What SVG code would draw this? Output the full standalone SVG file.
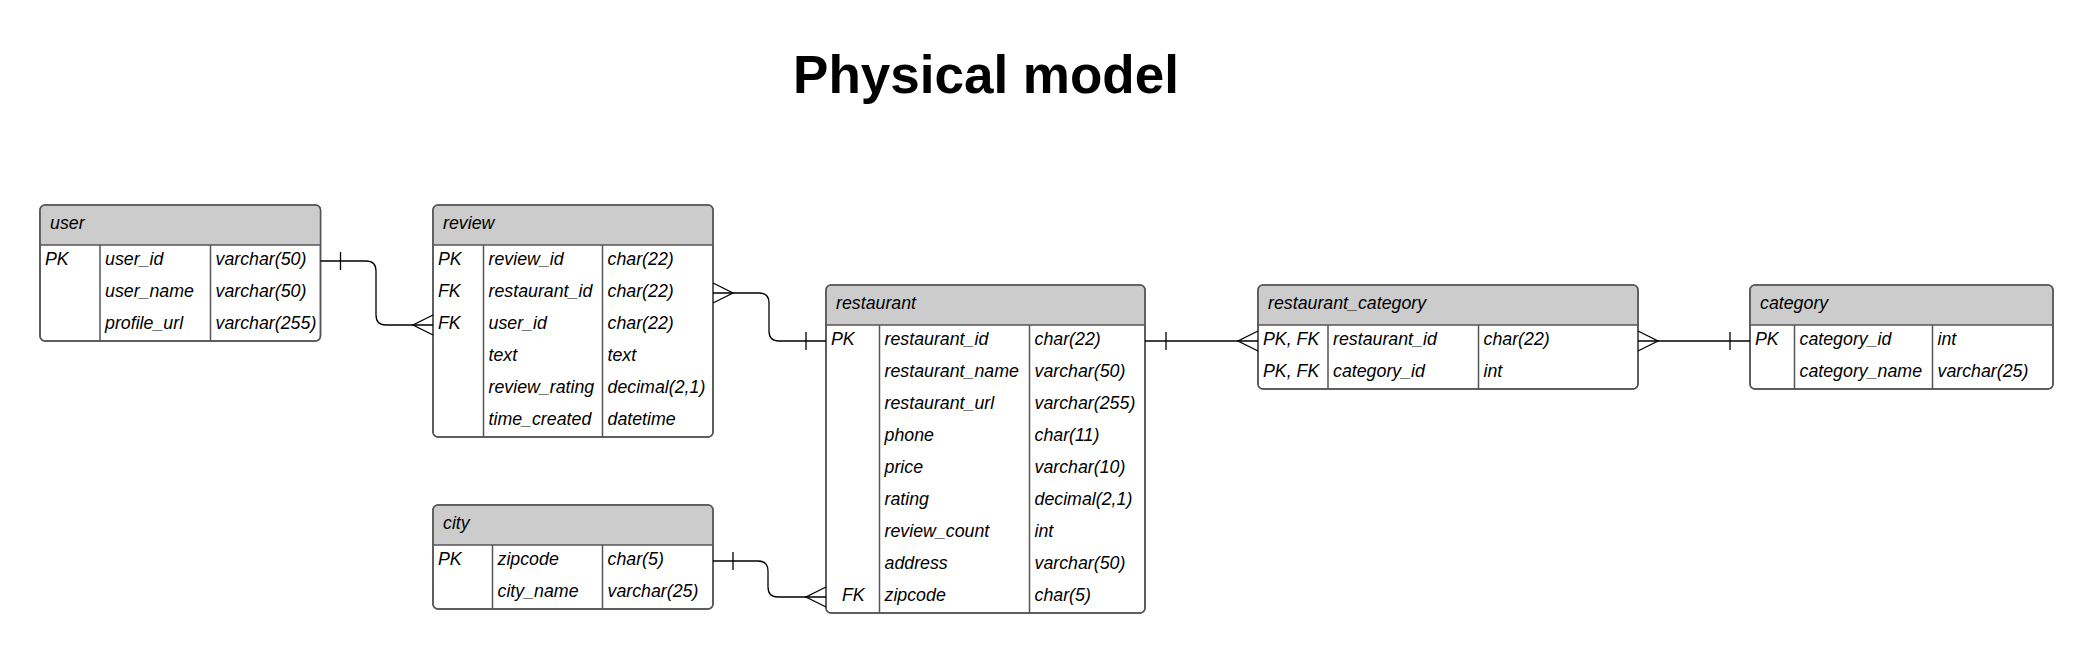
<svg xmlns="http://www.w3.org/2000/svg" width="2093" height="654" viewBox="0 0 2093 654">
<style>
.title{font-family:"Liberation Sans",Arial,sans-serif;font-weight:bold;font-size:53px;fill:#000}
.t{font-family:"Liberation Sans",Arial,sans-serif;font-style:italic;font-size:17.8px;fill:#000}
.box{fill:#fff;stroke:#555;stroke-width:1.5}
.hdr{fill:#cccccc;stroke:none}
.div{stroke:#555;stroke-width:1.5;fill:none}
.conn{fill:none;stroke:#000;stroke-width:1.3}
</style>
<rect width="2093" height="654" fill="#fff"/>
<text class="title" x="986" y="93" text-anchor="middle">Physical model</text>

<g id="user">
<rect class="box" x="40" y="205" width="280.5" height="136" rx="5"/>
<path class="hdr" d="M40.75,245 V210 Q40.75,205.75 45,205.75 H315.5 Q319.75,205.75 319.75,210 V245 Z"/>
<rect class="box" x="40" y="205" width="280.5" height="136" rx="5" style="fill:none"/>
<path class="div" d="M40,245 H320.5 M100,245 V341 M210.5,245 V341"/>
<text class="t" x="50" y="228.5">user</text>
<text class="t" x="45" y="264.5">PK</text>
<text class="t" x="105" y="264.5">user_id</text>
<text class="t" x="215.5" y="264.5">varchar(50)</text>
<text class="t" x="105" y="296.5">user_name</text>
<text class="t" x="215.5" y="296.5">varchar(50)</text>
<text class="t" x="105" y="328.5">profile_url</text>
<text class="t" x="215.5" y="328.5">varchar(255)</text>
</g>

<g id="review">
<rect class="box" x="433" y="205" width="280" height="232" rx="5"/>
<path class="hdr" d="M433.75,245 V210 Q433.75,205.75 438,205.75 H708 Q712.25,205.75 712.25,210 V245 Z"/>
<rect class="box" x="433" y="205" width="280" height="232" rx="5" style="fill:none"/>
<path class="div" d="M433,245 H713 M483.5,245 V437 M602.5,245 V437"/>
<text class="t" x="443" y="228.5">review</text>
<text class="t" x="438" y="264.5">PK</text>
<text class="t" x="488.5" y="264.5">review_id</text>
<text class="t" x="607.5" y="264.5">char(22)</text>
<text class="t" x="438" y="296.5">FK</text>
<text class="t" x="488.5" y="296.5">restaurant_id</text>
<text class="t" x="607.5" y="296.5">char(22)</text>
<text class="t" x="438" y="328.5">FK</text>
<text class="t" x="488.5" y="328.5">user_id</text>
<text class="t" x="607.5" y="328.5">char(22)</text>
<text class="t" x="488.5" y="360.5">text</text>
<text class="t" x="607.5" y="360.5">text</text>
<text class="t" x="488.5" y="392.5">review_rating</text>
<text class="t" x="607.5" y="392.5">decimal(2,1)</text>
<text class="t" x="488.5" y="424.5">time_created</text>
<text class="t" x="607.5" y="424.5">datetime</text>
</g>

<g id="city">
<rect class="box" x="433" y="505" width="280" height="104" rx="5"/>
<path class="hdr" d="M433.75,545 V510 Q433.75,505.75 438,505.75 H708 Q712.25,505.75 712.25,510 V545 Z"/>
<rect class="box" x="433" y="505" width="280" height="104" rx="5" style="fill:none"/>
<path class="div" d="M433,545 H713 M492.5,545 V609 M602.5,545 V609"/>
<text class="t" x="443" y="528.5">city</text>
<text class="t" x="438" y="564.5">PK</text>
<text class="t" x="497.5" y="564.5">zipcode</text>
<text class="t" x="607.5" y="564.5">char(5)</text>
<text class="t" x="497.5" y="596.5">city_name</text>
<text class="t" x="607.5" y="596.5">varchar(25)</text>
</g>

<g id="restaurant">
<rect class="box" x="826" y="285" width="319" height="328" rx="5"/>
<path class="hdr" d="M826.75,325 V290 Q826.75,285.75 831,285.75 H1140 Q1144.25,285.75 1144.25,290 V325 Z"/>
<rect class="box" x="826" y="285" width="319" height="328" rx="5" style="fill:none"/>
<path class="div" d="M826,325 H1145 M879.5,325 V613 M1029.5,325 V613"/>
<text class="t" x="836" y="308.5">restaurant</text>
<text class="t" x="831" y="344.5">PK</text>
<text class="t" x="884.5" y="344.5">restaurant_id</text>
<text class="t" x="1034.5" y="344.5">char(22)</text>
<text class="t" x="884.5" y="376.5">restaurant_name</text>
<text class="t" x="1034.5" y="376.5">varchar(50)</text>
<text class="t" x="884.5" y="408.5">restaurant_url</text>
<text class="t" x="1034.5" y="408.5">varchar(255)</text>
<text class="t" x="884.5" y="440.5">phone</text>
<text class="t" x="1034.5" y="440.5">char(11)</text>
<text class="t" x="884.5" y="472.5">price</text>
<text class="t" x="1034.5" y="472.5">varchar(10)</text>
<text class="t" x="884.5" y="504.5">rating</text>
<text class="t" x="1034.5" y="504.5">decimal(2,1)</text>
<text class="t" x="884.5" y="536.5">review_count</text>
<text class="t" x="1034.5" y="536.5">int</text>
<text class="t" x="884.5" y="568.5">address</text>
<text class="t" x="1034.5" y="568.5">varchar(50)</text>
<text class="t" x="842" y="600.5">FK</text>
<text class="t" x="884.5" y="600.5">zipcode</text>
<text class="t" x="1034.5" y="600.5">char(5)</text>
</g>

<g id="restaurant_category">
<rect class="box" x="1258" y="285" width="380" height="104" rx="5"/>
<path class="hdr" d="M1258.75,325 V290 Q1258.75,285.75 1263,285.75 H1633 Q1637.25,285.75 1637.25,290 V325 Z"/>
<rect class="box" x="1258" y="285" width="380" height="104" rx="5" style="fill:none"/>
<path class="div" d="M1258,325 H1638 M1328,325 V389 M1478.5,325 V389"/>
<text class="t" x="1268" y="308.5">restaurant_category</text>
<text class="t" x="1263" y="344.5">PK, FK</text>
<text class="t" x="1333" y="344.5">restaurant_id</text>
<text class="t" x="1483.5" y="344.5">char(22)</text>
<text class="t" x="1263" y="376.5">PK, FK</text>
<text class="t" x="1333" y="376.5">category_id</text>
<text class="t" x="1483.5" y="376.5">int</text>
</g>

<g id="category">
<rect class="box" x="1750" y="285" width="303" height="104" rx="5"/>
<path class="hdr" d="M1750.75,325 V290 Q1750.75,285.75 1755,285.75 H2048 Q2052.25,285.75 2052.25,290 V325 Z"/>
<rect class="box" x="1750" y="285" width="303" height="104" rx="5" style="fill:none"/>
<path class="div" d="M1750,325 H2053 M1794.5,325 V389 M1932.5,325 V389"/>
<text class="t" x="1760" y="308.5">category</text>
<text class="t" x="1755" y="344.5">PK</text>
<text class="t" x="1799.5" y="344.5">category_id</text>
<text class="t" x="1937.5" y="344.5">int</text>
<text class="t" x="1799.5" y="376.5">category_name</text>
<text class="t" x="1937.5" y="376.5">varchar(25)</text>
</g>

<g id="connectors">
<!-- user -> review -->
<path class="conn" d="M320.5,261 H366 Q376,261 376,271 V315 Q376,325 386,325 H433"/>
<path class="conn" d="M340.5,252 V270"/>
<path class="conn" d="M433,315 L413,325 L433,335"/>
<!-- review -> restaurant -->
<path class="conn" d="M713,293 H759 Q769,293 769,303 V331 Q769,341 779,341 H826"/>
<path class="conn" d="M713,283 L733,293 L713,303"/>
<path class="conn" d="M806,332 V350"/>
<!-- city -> restaurant -->
<path class="conn" d="M713,561 H758 Q768,561 768,571 V587 Q768,597 778,597 H826"/>
<path class="conn" d="M733,552 V570"/>
<path class="conn" d="M826,587 L806,597 L826,607"/>
<!-- restaurant -> restaurant_category -->
<path class="conn" d="M1145,341 H1258"/>
<path class="conn" d="M1166,332 V350"/>
<path class="conn" d="M1258,331 L1238,341 L1258,351"/>
<!-- restaurant_category -> category -->
<path class="conn" d="M1638,341 H1750"/>
<path class="conn" d="M1638,331 L1658,341 L1638,351"/>
<path class="conn" d="M1730,332 V350"/>
</g>
</svg>
